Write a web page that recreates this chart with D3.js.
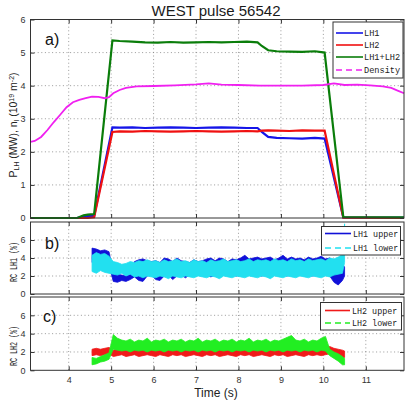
<!DOCTYPE html>
<html><head><meta charset="utf-8">
<script src="https://cdn.jsdelivr.net/npm/d3@7"></script>
<style>body{margin:0;background:#fff}svg{display:block}</style>
</head><body>
<svg id="c" width="406" height="404"></svg>
<script>
// ---------- data ----------
const xTicks = [4,5,6,7,8,9,10,11];
const yTicksA = [0,1,2,3,4,5,6];
const yTicksRC = [0,2,4,6];

// panel a: power (MW) and density
const tPow = [3.1, 4.2, 4.35, 4.45, 4.6, 5.03, 5.2, 5.5, 5.8, 6.1, 6.4, 6.7, 7.0, 7.3, 7.6, 7.9, 8.2, 8.45, 8.55, 8.7, 8.9, 9.2, 9.5, 9.8, 10.03, 10.47, 11.9];
const pLH1 = [0, 0, 0.05, 0.06, 0.06, 2.74, 2.73, 2.74, 2.72, 2.73, 2.74, 2.73, 2.72, 2.73, 2.74, 2.73, 2.72, 2.72, 2.6, 2.45, 2.42, 2.41, 2.40, 2.42, 2.40, 0.02, 0.01];
const pLH2 = [0, 0, 0, 0, 0.02, 2.6, 2.62, 2.61, 2.63, 2.62, 2.61, 2.62, 2.63, 2.62, 2.61, 2.62, 2.63, 2.62, 2.64, 2.65, 2.64, 2.63, 2.65, 2.64, 2.64, 0.01, 0];
const pTot = [0, 0, 0.08, 0.1, 0.12, 5.37, 5.35, 5.33, 5.31, 5.30, 5.32, 5.30, 5.31, 5.32, 5.31, 5.32, 5.33, 5.31, 5.2, 5.07, 5.04, 5.03, 5.02, 5.04, 5.0, 0.03, 0.02];
const tDens = [3.1, 3.2, 3.35, 3.5, 3.65, 3.8, 3.95, 4.1, 4.25, 4.4, 4.55, 4.7, 4.85, 4.95, 5.05, 5.2, 5.35, 5.6, 6.0, 6.5, 7.0, 7.3, 7.6, 8.0, 8.5, 9.0, 9.5, 10.0, 10.25, 10.5, 10.8, 11.1, 11.4, 11.6, 11.75, 11.9];
const nDens = [2.3, 2.33, 2.45, 2.66, 2.9, 3.12, 3.35, 3.5, 3.57, 3.62, 3.67, 3.66, 3.62, 3.65, 3.77, 3.87, 3.93, 3.98, 3.99, 4.01, 4.04, 4.07, 4.03, 4.02, 4.0, 4.0, 4.0, 4.02, 4.07, 4.02, 4.03, 4.01, 3.98, 3.93, 3.85, 3.77];

// panels b, c: reflection coefficients (%), min/max envelope per sample
const tRC = [4.55,4.65,4.75,4.85,4.95,5.05,5.15,5.25,5.35,5.45,5.55,5.65,5.75,5.85,5.95,6.05,6.15,6.25,6.35,6.45,6.55,6.65,6.75,6.85,6.95,7.05,7.15,7.25,7.35,7.45,7.55,7.65,7.75,7.85,7.95,8.05,8.15,8.25,8.35,8.45,8.55,8.65,8.75,8.85,8.95,9.05,9.15,9.25,9.35,9.45,9.55,9.65,9.75,9.85,9.95,10.05,10.15,10.25,10.35,10.45,10.5];
const lh1UpLo = [3.5,3.8,3.4,3.9,3.2,1.4,1.3,1.5,1.4,1.6,1.9,1.5,1.4,2.0,2.1,1.6,1.5,2.0,2.1,1.6,2.0,2.1,1.8,2.1,2.0,2.1,2.0,2.1,1.9,2.1,2.0,2.1,2.0,2.1,2.0,2.1,2.0,2.1,2.0,2.1,2.0,2.1,2.0,2.1,2.0,2.1,2.0,2.1,2.0,2.1,2.0,2.1,2.0,2.1,2.0,2.1,2.0,1.3,1.0,1.5,2.0];
const lh1UpHi = [5.1,5.0,4.8,4.9,4.7,2.4,2.2,2.1,2.0,2.2,3.6,3.8,3.9,3.7,3.6,3.7,3.5,4.0,3.9,3.6,4.0,3.7,3.6,3.5,3.8,3.6,3.7,3.9,4.0,3.7,4.0,3.9,3.6,3.9,3.8,4.0,4.3,3.9,4.0,4.1,3.9,4.0,4.1,3.8,4.0,4.3,3.9,4.1,3.9,4.0,3.8,4.1,3.9,4.0,4.2,3.9,4.0,3.7,3.0,3.3,3.0];
const lh1LowLo = [2.5,2.3,2.6,2.4,2.3,2.2,2.1,2.3,2.0,2.2,1.9,2.0,1.8,2.0,1.9,1.8,2.0,1.9,1.7,2.0,1.9,1.8,2.0,1.9,1.8,2.0,1.9,1.8,2.0,1.9,1.7,2.0,1.9,1.8,2.0,1.9,1.8,2.0,1.9,1.8,2.0,1.9,1.7,2.0,1.9,1.8,2.0,1.9,1.8,2.0,1.9,1.8,2.0,1.9,1.8,2.0,1.9,2.1,2.2,2.3,3.5];
const lh1LowHi = [4.3,4.6,4.4,4.5,4.2,3.6,3.5,3.3,3.4,3.6,3.5,3.7,3.6,3.8,3.6,3.7,3.5,3.8,3.6,3.7,3.9,3.6,3.7,3.5,3.8,3.6,3.7,3.5,3.8,3.6,3.7,3.9,3.6,3.7,3.8,3.6,3.7,3.9,3.6,3.8,3.7,3.8,3.6,3.9,3.7,3.8,3.6,3.9,3.7,3.8,3.6,3.9,3.7,3.8,3.9,3.7,4.0,3.9,4.1,4.4,7.8];
const lh2UpLo = [1.6,1.7,1.6,1.7,1.8,1.5,1.6,1.7,1.5,1.6,1.7,1.5,1.6,1.7,1.6,1.5,1.7,1.6,1.5,1.7,1.6,1.7,1.5,1.6,1.7,1.6,1.5,1.7,1.6,1.7,1.5,1.6,1.7,1.6,1.5,1.7,1.6,1.7,1.5,1.6,1.7,1.6,1.5,1.7,1.6,1.7,1.5,1.6,1.7,1.6,1.5,1.7,1.6,1.7,1.6,1.7,1.8,1.7,1.6,1.4,1.4];
const lh2UpHi = [2.3,2.4,2.3,2.4,2.5,2.2,2.3,2.2,2.3,2.2,2.4,2.2,2.3,2.2,2.3,2.2,2.4,2.2,2.3,2.2,2.3,2.2,2.4,2.2,2.3,2.2,2.3,2.2,2.4,2.2,2.3,2.2,2.3,2.2,2.4,2.2,2.3,2.2,2.3,2.2,2.4,2.2,2.3,2.2,2.3,2.2,2.4,2.2,2.3,2.2,2.3,2.2,2.4,2.2,2.3,2.5,2.6,2.4,2.3,2.2,2.1];
const lh2LowLo = [0.6,0.7,0.9,1.0,1.2,2.3,2.2,2.1,2.2,2.0,2.2,2.1,2.2,2.0,2.2,2.1,2.2,2.0,2.2,2.1,2.2,2.0,2.2,2.1,2.2,2.0,2.2,2.1,2.2,2.0,2.2,2.1,2.2,2.0,2.2,2.1,2.2,2.0,2.2,2.1,2.2,2.0,2.2,2.1,2.2,2.0,2.2,2.1,2.2,2.0,2.2,2.1,2.2,2.0,2.2,2.1,1.6,1.3,1.0,0.6,0.6];
const lh2LowHi = [1.4,1.3,1.5,1.7,1.9,3.9,3.5,3.3,3.2,3.4,3.1,3.3,3.2,3.5,3.1,3.3,3.2,3.4,3.1,3.3,3.2,3.4,3.1,3.3,3.2,3.5,3.1,3.3,3.2,3.4,3.1,3.3,3.2,3.4,3.1,3.3,3.2,3.5,3.1,3.3,3.2,3.4,3.1,3.3,3.2,3.4,3.6,3.8,3.3,3.2,3.4,3.1,3.3,3.2,3.5,3.7,2.3,2.0,1.8,1.5,1.3];

// ---------- drawing ----------
const svg = d3.select("#c");
const L = 30.5, R = 404;
const x = d3.scaleLinear().domain([3.1, 11.9]).range([L, R]);
const GRID = "#808080";

svg.append("text").attr("x", 216).attr("y", 16).attr("text-anchor","middle")
  .attr("font-family","Liberation Sans, Arial, sans-serif").attr("font-size",15).attr("fill","#1a1a1a")
  .text("WEST pulse 56542");

function panel(top, bottom, ydom, yticks) {
  const y = d3.scaleLinear().domain(ydom).range([bottom, top]);
  const g = svg.append("g");
  const gg = g.append("g").attr("stroke", GRID).attr("stroke-width", 0.8).attr("stroke-dasharray","1,2.6");
  xTicks.forEach(v => gg.append("line").attr("x1", x(v)).attr("x2", x(v)).attr("y1", top).attr("y2", bottom));
  yticks.filter(v => v > ydom[0] && v < ydom[1]).forEach(v => gg.append("line").attr("x1", L).attr("x2", R).attr("y1", y(v)).attr("y2", y(v)));
  return {y, g, top, bottom};
}
function frame(p, yticks, showX) {
  const {y, g, top, bottom} = p;
  const tf = "Liberation Sans, Arial, sans-serif";
  const ax = g.append("g").attr("transform", `translate(${L},0)`)
    .call(d3.axisLeft(y).tickValues(yticks).tickSize(-4).tickPadding(5).tickFormat(d3.format("d")));
  const ar = g.append("g").attr("transform", `translate(${R},0)`)
    .call(d3.axisRight(y).tickValues(yticks).tickSize(-4).tickFormat(""));
  const at = g.append("g").attr("transform", `translate(0,${top})`)
    .call(d3.axisTop(x).tickValues(xTicks).tickSize(-4).tickFormat(""));
  const ab = g.append("g").attr("transform", `translate(0,${bottom})`)
    .call(d3.axisBottom(x).tickValues(xTicks).tickSize(-4).tickPadding(6).tickFormat(showX ? d3.format("d") : ""));
  [ax, ar, at, ab].forEach(a => {
    a.select(".domain").remove();
    a.selectAll("line").attr("stroke","#333");
    a.selectAll("text").attr("font-family", tf).attr("font-size", 9).attr("fill","#333");
  });
  g.append("rect").attr("x", L).attr("y", top).attr("width", R - L).attr("height", bottom - top)
    .attr("fill","none").attr("stroke","#333").attr("stroke-width",1);
}
function legend(g, bx, by, bw, bh, items, lx1, lx2, tx, fs) {
  g.append("rect").attr("x", bx).attr("y", by).attr("width", bw).attr("height", bh)
    .attr("fill","#fff").attr("stroke","#333").attr("stroke-width",1);
  items.forEach(it => {
    g.append("line").attr("x1", lx1).attr("x2", lx2).attr("y1", it.y).attr("y2", it.y)
      .attr("stroke", it.c).attr("stroke-width", 1.6).attr("stroke-dasharray", it.dash ? "6,4" : null);
    g.append("text").attr("x", tx).attr("y", it.y + 3).attr("font-family","Liberation Mono, DejaVu Sans Mono, monospace")
      .attr("font-size", fs).attr("fill","#222").text(it.t);
  });
}
function panelLabel(t, px, py) {
  svg.append("text").attr("x", px).attr("y", py).attr("font-family","Liberation Sans, Arial, sans-serif")
    .attr("font-size", 16).attr("fill","#111").text(t);
}

// ---- panel a ----
const pa = panel(19.5, 218, [0, 6], yTicksA);
const lineA = (vals) => d3.line().x((d, i) => x(tPow[i])).y(d => pa.y(d))(vals);
pa.g.append("path").attr("d", lineA(pLH1)).attr("fill","none").attr("stroke","#1515e8").attr("stroke-width",2.2);
pa.g.append("path").attr("d", lineA(pLH2)).attr("fill","none").attr("stroke","#f01010").attr("stroke-width",2.2);
pa.g.append("path").attr("d", lineA(pTot)).attr("fill","none").attr("stroke","#0a7d0a").attr("stroke-width",2.2);
pa.g.append("path").attr("d", d3.line().x((d,i)=>x(tDens[i])).y(d=>pa.y(d))(nDens))
  .attr("fill","none").attr("stroke","#f020f0").attr("stroke-width",1.8);
frame(pa, yTicksA, false);
legend(pa.g, 333, 22, 70, 56, [
  {t:"LH1", c:"#1515e8", y:33},
  {t:"LH2", c:"#f01010", y:45},
  {t:"LH1+LH2", c:"#0a7d0a", y:57},
  {t:"Density", c:"#f020f0", y:70, dash:true}
], 336, 363, 364, 8.6);
panelLabel("a)", 45, 45);
{
  const t = svg.append("text").attr("transform","translate(17,125) rotate(-90)").attr("text-anchor","middle")
    .attr("font-family","Liberation Sans, Arial, sans-serif").attr("font-size",10.5).attr("fill","#222");
  t.append("tspan").text("P");
  t.append("tspan").attr("dy",2).attr("font-size",7).text("LH");
  t.append("tspan").attr("dy",-2).text(" (MW), n");
  t.append("tspan").attr("dy",2).attr("font-size",7).text("l");
  t.append("tspan").attr("dy",-2).text(" (10");
  t.append("tspan").attr("dy",-3).attr("font-size",7).text("19");
  t.append("tspan").attr("dy",3).text(" m");
  t.append("tspan").attr("dy",-3).attr("font-size",7).text("-2");
  t.append("tspan").attr("dy",3).text(")");
}

// ---- band helper ----
function band(p, lo, hi, col) {
  const area = d3.area().x((d, i) => x(tRC[i])).y0((d, i) => p.y(lo[i])).y1((d, i) => p.y(hi[i]));
  p.g.append("path").attr("d", area(lo)).attr("fill", col).attr("stroke", col).attr("stroke-width", 0.8);
}

// ---- panel b ----
const pb = panel(222, 294, [0, 8], yTicksRC);
band(pb, lh1UpLo, lh1UpHi, "#1010d8");
band(pb, lh1LowLo, lh1LowHi, "#22e0f0");
frame(pb, yTicksRC, false);
legend(pb.g, 321.5, 226.5, 79, 28.5, [
  {t:"LH1 upper", c:"#1010d8", y:233.5},
  {t:"LH1 lower", c:"#22e0f0", y:248, dash:true}
], 325, 351, 353, 8.4);
panelLabel("b)", 45, 249);

// ---- panel c ----
const pc = panel(297, 370.3, [0, 8], yTicksRC);
band(pc, lh2UpLo, lh2UpHi, "#f01a1a");
band(pc, lh2LowLo, lh2LowHi, "#22ee22");
frame(pc, yTicksRC, true);
legend(pc.g, 320.5, 302.5, 81, 27.5, [
  {t:"LH2 upper", c:"#f01a1a", y:310.5},
  {t:"LH2 lower", c:"#22ee22", y:323, dash:true}
], 325, 350, 352, 8.4);
panelLabel("c)", 43, 322);

// y labels b, c
[["RC LH1 (%)", 262], ["RC LH2 (%)", 346]].forEach(([s, cy]) => {
  svg.append("text").attr("transform", `translate(16.5,${cy}) rotate(-90)`).attr("text-anchor","middle")
    .attr("font-family","Liberation Mono, DejaVu Sans Mono, monospace").attr("font-size",10.5)
    .attr("textLength", 40).attr("lengthAdjust","spacingAndGlyphs").attr("fill","#222").text(s);
});

svg.append("text").attr("x", 216).attr("y", 397).attr("text-anchor","middle")
  .attr("font-family","Liberation Sans, Arial, sans-serif").attr("font-size",12).attr("fill","#222")
  .text("Time (s)");
</script>
</body></html>
